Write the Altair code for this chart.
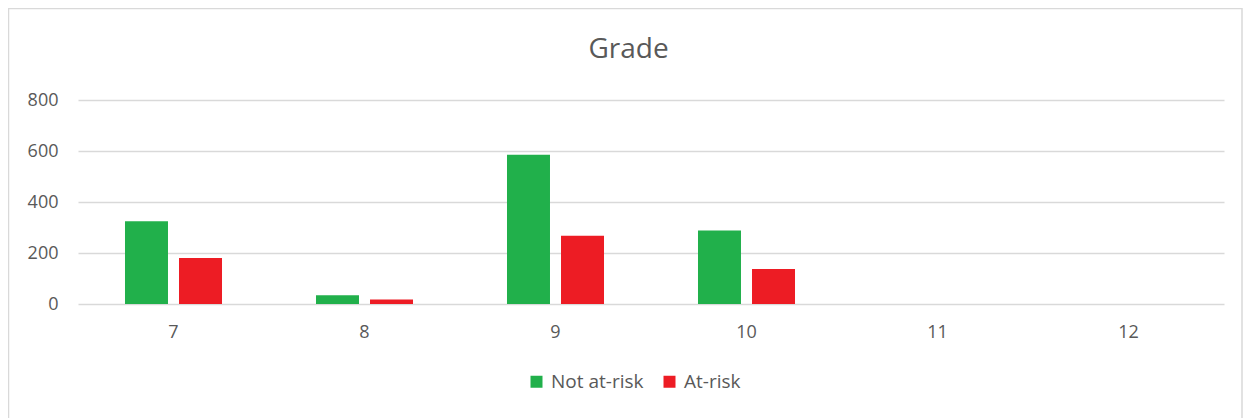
import altair as alt
import pandas as pd

grades = ["7", "8", "9", "10", "11", "12"]
not_at_risk = [325, 34, 585, 288, 0, 0]
at_risk = [180, 18, 268, 137, 0, 0]
series = ["Not at-risk", "At-risk"]
colors = ["#21B04B", "#ED1C24"]
title_text = "Grade"

rows = []
for g, a, b in zip(grades, not_at_risk, at_risk):
    rows.append({"grade": g, "series": series[0], "value": a})
    rows.append({"grade": g, "series": series[1], "value": b})
df = pd.DataFrame(rows)

FONT = "Open Sans"
TXT = "#595959"

bars = alt.Chart(df).mark_bar().encode(
    x=alt.X("grade:N", sort=grades, title=None,
            scale=alt.Scale(paddingInner=0, paddingOuter=0),
            axis=alt.Axis(labelAngle=0, ticks=False, domain=False, grid=False,
                          labelFont=FONT, labelFontSize=18, labelColor=TXT,
                          labelPadding=19)),
    xOffset=alt.XOffset("series:N", sort=series,
                        scale=alt.Scale(paddingInner=0.204, paddingOuter=0.87)),
    y=alt.Y("value:Q", title=None,
            scale=alt.Scale(domain=[0, 800]),
            axis=alt.Axis(values=[0, 200, 400, 600, 800], ticks=False, domain=False,
                          gridColor="#d9d9d9", gridWidth=1.3,
                          labelFont=FONT, labelFontSize=18, labelColor=TXT,
                          labelPadding=20)),
    color=alt.Color("series:N", sort=series,
                    scale=alt.Scale(domain=series, range=colors),
                    legend=alt.Legend(title=None, orient="none", direction="horizontal",
                                      legendX=449, legendY=272,
                                      symbolType="square", symbolSize=144,
                                      symbolStrokeWidth=0,
                                      labelFont=FONT, labelFontSize=19, labelColor=TXT,
                                      columnPadding=16, labelOffset=5)),
)

title = alt.Chart(pd.DataFrame({"t": [title_text]})).mark_text(
    font=FONT, fontSize=28, color=TXT, baseline="middle", align="center"
).encode(x=alt.value(550.5), y=alt.value(-50), text="t:N")

frame = alt.Chart(pd.DataFrame({"a": [0]})).mark_rect(
    fill=None, stroke="#d9d9d9", strokeWidth=1.5
).encode(
    x=alt.value(-69.5), x2=alt.value(1164),
    y=alt.value(-91.5), y2=alt.value(330),
)

chart = (
    alt.layer(frame, bars, title)
    .properties(
        width=1146, height=204,
        autosize=alt.AutoSizeParams(type="none"),
        padding={"left": 70, "top": 92, "right": 19, "bottom": 114},
    )
    .configure(background="white")
    .configure_view(stroke="transparent", strokeWidth=0)
    .configure_axisX(grid=False)
)

chart.save("out.html", embed_options={"renderer": "svg", "actions": False})
